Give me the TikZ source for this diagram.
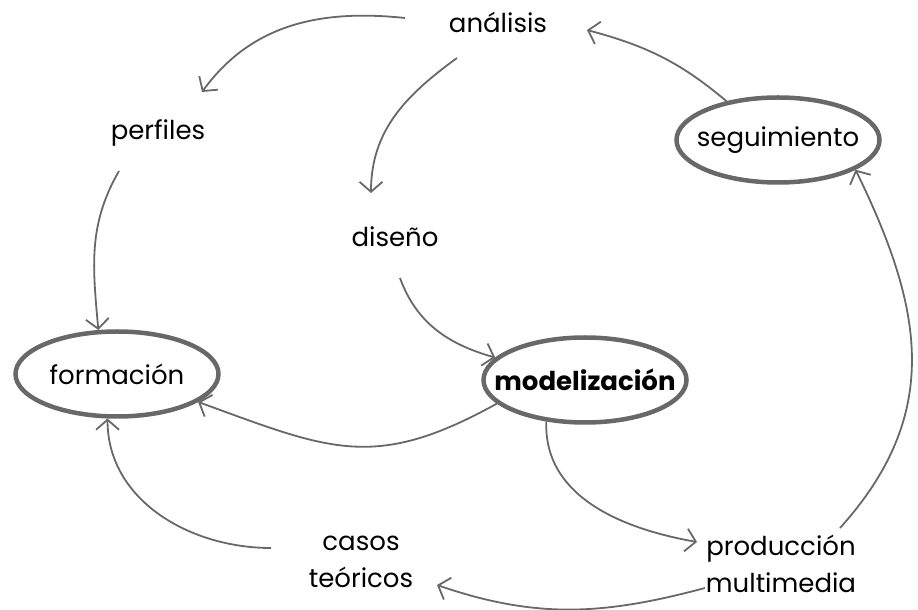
\documentclass[tikz,border=0pt]{standalone}
\usepackage{fontspec}
\setmainfont{Poppins}
\usetikzlibrary{shapes.geometric,arrows.meta}
\definecolor{edge_grey}{RGB}{104, 104, 104}
\newcommand{\ztext}[1]{\makebox[0pt]{#1}}
\tikzstyle{tn}=[inner sep=0pt,align=center,font=\fontsize{26}{37}\selectfont]
\tikzstyle{en}=[ellipse,draw=edge_grey,line width=4.5pt,inner sep=0pt,
  minimum width=203pt,minimum height=85pt,font=\fontsize{26}{37}\selectfont]
\tikzstyle{arr}=[draw=edge_grey,line width=1.8pt,
  -{Straight Barb[length=10pt,width=23pt]}]

\begin{document}
\begin{tikzpicture}[x=1pt, y=1pt]
  \useasboundingbox (0, 0) rectangle (918, 610);
  \node [style=tn] (0) at (498, 588) {análisis};
  \node [style=tn] (1) at (158, 477) {perfiles};
  \node [style=tn] (2) at (395, 373) {diseño};
  \node [style=en] (3) at (117, 236) {\ztext{formación}};
  \node [style=en] (4) at (585, 230) {\ztext{\bfseries modelización}};
  \node [style=en] (5) at (778, 470) {\ztext{seguimiento}};
  \node [style=tn] (6) at (361, 48) {casos\\teóricos};
  \node [style=tn] (7) at (781, 46) {producción\\multimedia};
  \draw [style=arr] ([shift={(-93,4)}]0.center) to [out=174, in=54] ([shift={(44,41)}]1.center);
  \draw [style=arr] ([shift={(-41,-36)}]0.center) to [out=216, in=90] ([shift={(-24,44)}]2.center);
  \draw [style=arr] ([shift={(-39,-38)}]1.center) to [out=240, in=95] (3.113);
  \draw [style=arr] ([shift={(5,-41)}]2.center) to [out=290, in=164] (4.166);
  \draw [style=arr] (4.195) to [out=209, in=340, looseness=1.2] (3.341);
  \draw [style=arr] ([shift={(-90,14)}]6.center) to [out=180, in=270] (3.258);
  \draw [style=arr] (4.227) to [out=268, in=170] ([shift={(-84,22)}]7.center);
  \draw [style=arr] ([shift={(-76,-24)}]7.center) to [out=195, in=341] ([shift={(76,-23)}]6.center);
  \draw [style=arr] ([shift={(59,36)}]7.center) to [out=48, in=296, looseness=1.1] (5.339);
  \draw [style=arr] (5.143) to [out=140, in=345] ([shift={(89,-8)}]0.center);
\end{tikzpicture}
\end{document}
